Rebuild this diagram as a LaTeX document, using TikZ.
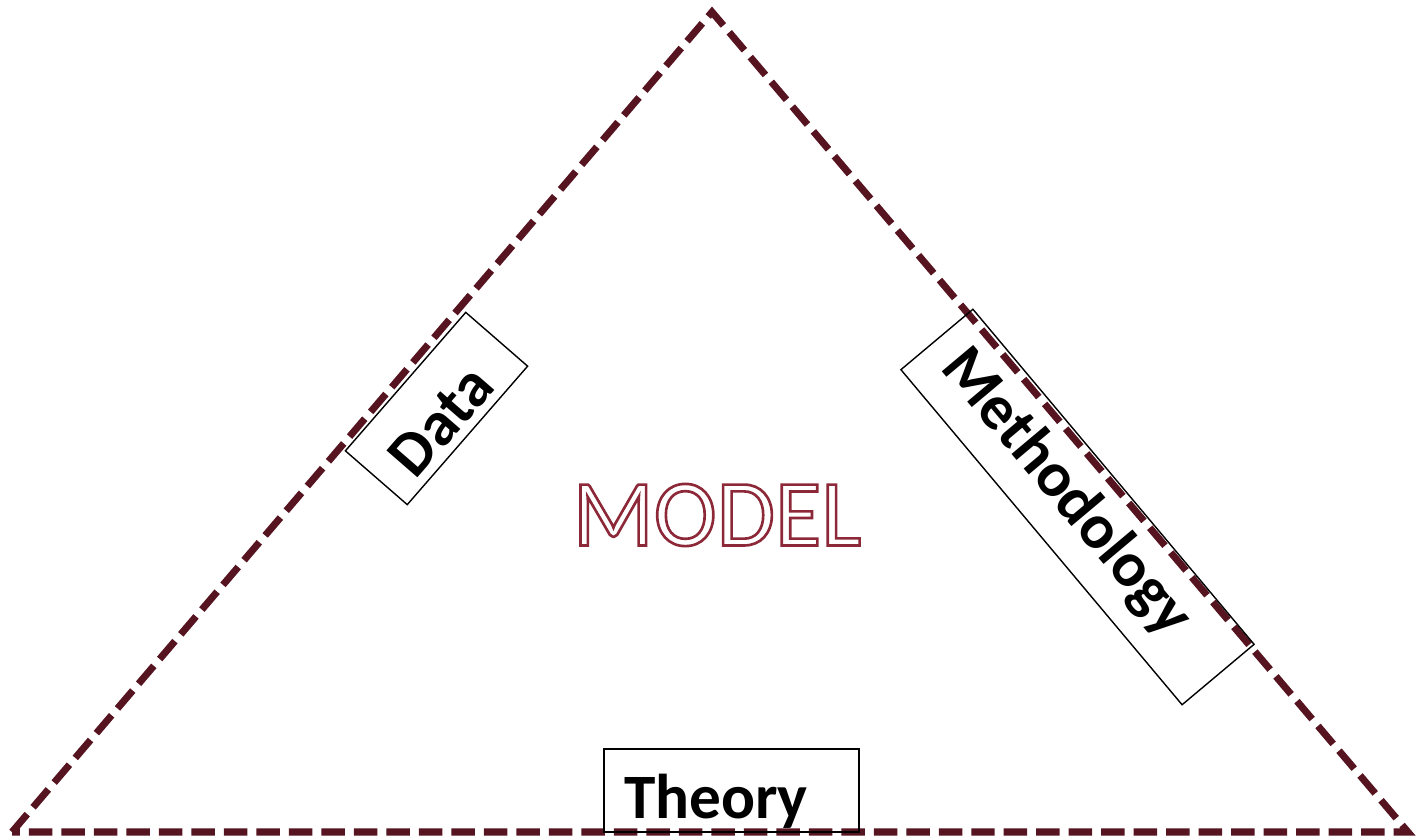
\documentclass[tikz,border=0pt]{standalone}
\usepackage{fontspec}
\setmainfont{Carlito}
\usepackage{tikz}
\definecolor{triline}{RGB}{85,20,32}
\definecolor{modelred}{RGB}{140,40,56}
% outlined letters
\newcommand{\outlinetext}[1]{\special{pdf:code q 1 Tr 1.5 w}#1\special{pdf:code Q}}

\begin{document}
\begin{tikzpicture}[x=0.02cm,y=-0.02cm,
		edge/.style={color=triline, line width=4pt, dash pattern=on 0.47cm off 0.18cm},
		box/.style={draw=black, line width=0.8pt, inner sep=0pt},
		lbl/.style={font=\fontsize{36}{40}\selectfont\bfseries}]
		\useasboundingbox (0,0) rectangle (1417,839);
		\coordinate (top) at (712,12);
		\coordinate (left) at (12,832);
		\coordinate (right) at (1408,832);
		\draw[edge] (left) -- (top) -- (right) -- cycle;
		% boxes
		\node[box, rotate=49, minimum width=3.67cm, minimum height=1.64cm] (data) at (436.5,408.5) {};
		\node[box, rotate=-50, minimum width=8.75cm, minimum height=1.88cm] (method) at (1077.5,507) {};
		\node[box, minimum width=5.1cm, minimum height=1.66cm] (theory) at (731.5,790.5) {};
		% labels
		\node[lbl, rotate=49] (datatext) at (441,421) {Data};
		\node[lbl, rotate=-50] (methodtext) at (1066,493) {Methodology};
		\node[lbl, anchor=base] (theorytext) at (716,818) {Theory};
		\node[text=modelred, font=\fontsize{54}{60}\selectfont] (model) at (717,515) {\outlinetext{MODEL}};
	\end{tikzpicture}
\end{document}
